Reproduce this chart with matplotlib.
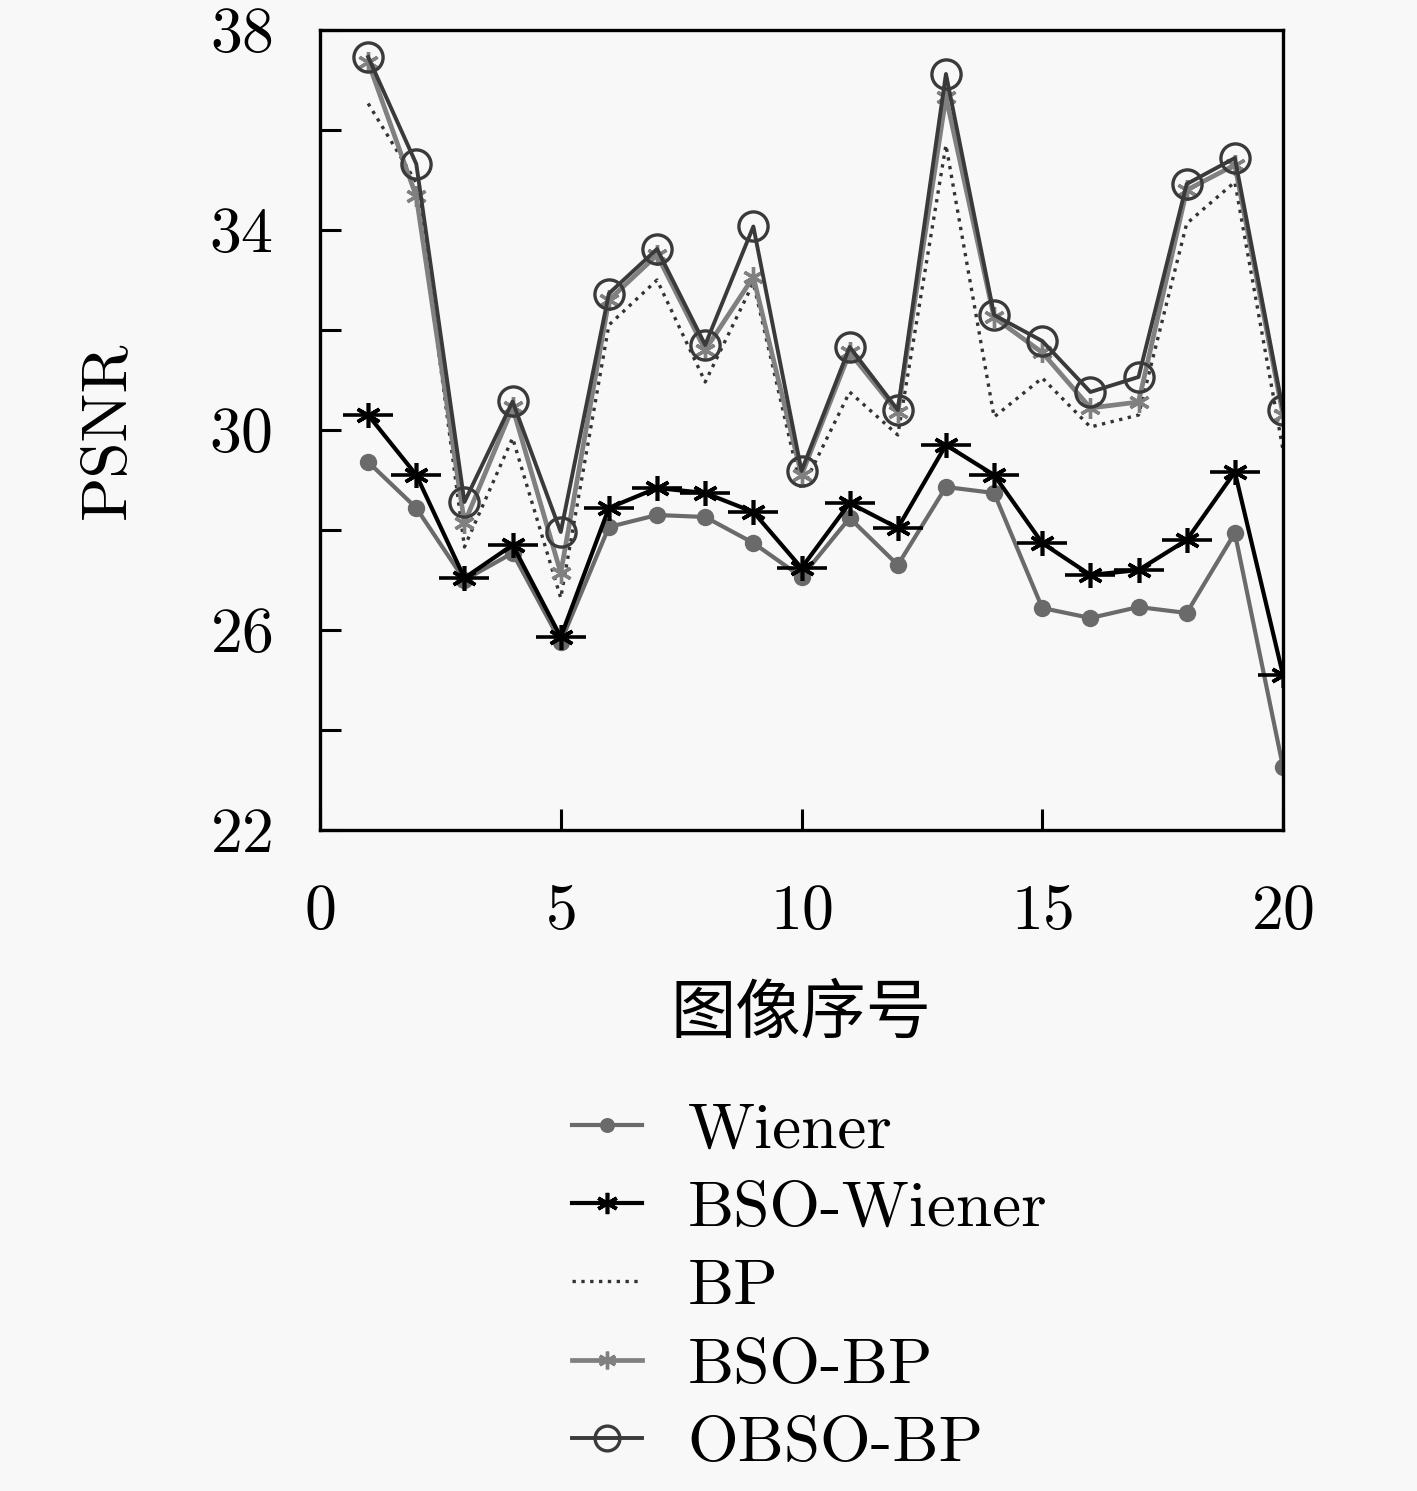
#!/usr/bin/env python3
import numpy as np
import matplotlib
matplotlib.use("Agg")
import matplotlib.pyplot as plt
from matplotlib.ticker import FixedLocator

# image index 1..20
image_idx = np.arange(1, 21)

wiener = [29.36, 28.44, 27.00, 27.54, 25.76, 28.06, 28.30, 28.26, 27.74, 27.06,
          28.24, 27.30, 28.86, 28.74, 26.44, 26.24, 26.46, 26.34, 27.94, 23.26]
bso_wiener = [30.30, 29.10, 27.04, 27.70, 25.86, 28.44, 28.84, 28.74, 28.36, 27.24,
              28.54, 28.04, 29.70, 29.10, 27.74, 27.10, 27.20, 27.80, 29.16, 25.10]
bp = [36.53, 34.95, 27.66, 29.84, 26.64, 32.10, 33.00, 30.96, 32.94, 28.80,
      30.76, 29.90, 35.70, 30.26, 31.04, 30.06, 30.30, 34.13, 34.96, 29.60]
bso_bp = [37.36, 34.67, 28.14, 30.45, 27.14, 32.60, 33.50, 31.60, 33.06, 29.10,
          31.55, 30.35, 36.66, 32.25, 31.55, 30.44, 30.56, 34.80, 35.30, 30.30]
obso_bp = [37.46, 35.32, 28.56, 30.57, 27.96, 32.73, 33.62, 31.70, 34.07, 29.18,
           31.66, 30.40, 37.12, 32.30, 31.78, 30.76, 31.06, 34.92, 35.44, 30.40]

y_major = [22, 26, 30, 34, 38]
y_minor = [24, 28, 32, 36]
x_major = [0, 5, 10, 15, 20]

BG = "#f8f8f8"
plt.rcParams["font.family"] = ["cmr10", "DejaVu Serif"]
plt.rcParams["axes.formatter.use_mathtext"] = True
plt.rcParams["mathtext.fontset"] = "cm"

fig = plt.figure(figsize=(14.17, 14.91), dpi=100, facecolor=BG)
ax = fig.add_axes([320 / 1417, 1 - 830 / 1491, 963 / 1417, 800 / 1491])
ax.set_facecolor(BG)

ax.plot(image_idx, wiener, color="#6a6a6a", lw=3.0, marker="o", ms=11.5,
        mfc="#6a6a6a", mec="#6a6a6a", label="Wiener")
ax.plot(image_idx, bso_wiener, color="black", lw=3.0, marker=(6, 2, 0), ms=18,
        mew=2.6, label="BSO-Wiener")
ax.plot(image_idx, bso_wiener, ls="none", color="black", marker="_", ms=36, mew=2.6)
ax.plot(image_idx, bp, color="#333333", lw=2.4, ls=":", label="BP")
ax.plot(image_idx, bso_bp, color="#808080", lw=3.4, marker=(6, 2, 0), ms=15,
        mew=2.4, label="BSO-BP")
ax.plot(image_idx, obso_bp, color="#3a3a3a", lw=2.8, marker="o", ms=21,
        mfc="none", mec="#3a3a3a", mew=2.4, label="OBSO-BP")

ax.set_xlim(0, 20)
ax.set_ylim(22, 38)
ax.xaxis.set_major_locator(FixedLocator(x_major))
ax.yaxis.set_major_locator(FixedLocator(y_major))
ax.yaxis.set_minor_locator(FixedLocator(y_minor))
ax.tick_params(axis="both", which="both", direction="in", width=2.2, length=15,
               labelsize=46)
ax.tick_params(axis="x", pad=39)
ax.tick_params(axis="y", pad=34)
for sp in ax.spines.values():
    sp.set_linewidth(2.4)

ax.set_ylabel("PSNR", fontsize=47)
ax.yaxis.set_label_coords(-0.19, 0.5)
ax.set_xlabel("图像序号", fontsize=47, family=["Noto Sans CJK SC", "DejaVu Sans"])
ax.xaxis.set_label_coords(0.5, -0.231)
ax.xaxis.label.set_va("center")

handles, labels = ax.get_legend_handles_labels()
fig.legend(handles, labels, loc="upper left",
           bbox_to_anchor=(572 / 1417, 1 - 1102 / 1491),
           frameon=False, fontsize=47, handlelength=1.07, handletextpad=0.7,
           labelspacing=0.3, borderpad=0, borderaxespad=0, markerscale=0.85)

fig.savefig("out.png", dpi=100, facecolor=BG)
